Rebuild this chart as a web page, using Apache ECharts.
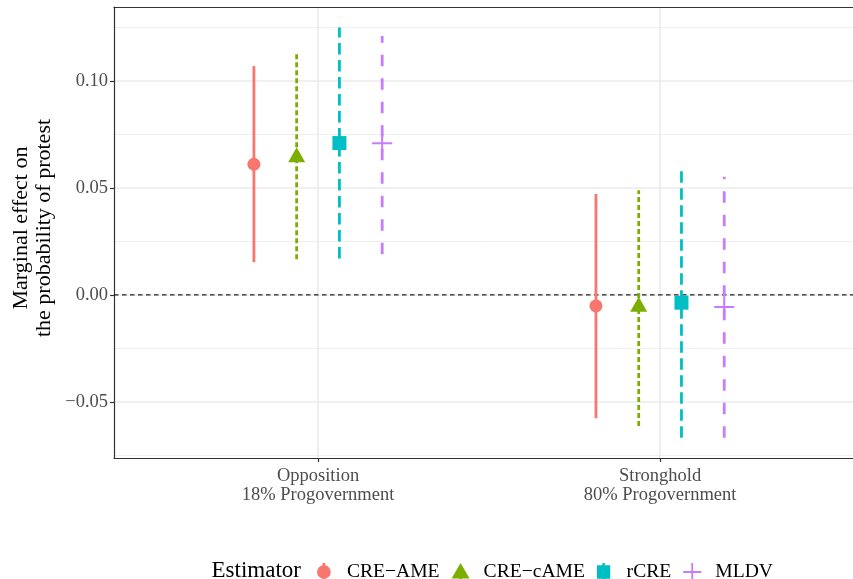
<!DOCTYPE html>
<html>
<head>
<meta charset="utf-8">
<script src="https://cdn.jsdelivr.net/npm/echarts@6/dist/echarts.min.js"></script>
<style>
html, body { margin: 0; padding: 0; background: #fff; }
#chart { width: 853px; height: 579px; }
</style>
</head>
<body>
<div id="chart"></div>
<script>
// categories on the x axis
var categories = ['Opposition\n18% Progovernment', 'Stronghold\n80% Progovernment']
var estimators = ['CRE\u2212AME', 'CRE\u2212cAME', 'rCRE', 'MLDV']

// estimates and interval ends, one value per category
var ame_est = [0.0611, -0.0051]
var ame_lo = [0.0153, -0.0576]
var ame_hi = [0.1070, 0.0472]

var came_est = [0.0644, -0.0055]
var came_lo = [0.0167, -0.0612]
var came_hi = [0.1129, 0.0490]

var rcre_est = [0.0710, -0.0036]
var rcre_lo = [0.0170, -0.0667]
var rcre_hi = [0.1250, 0.0595]

var mldv_est = [0.0709, -0.0056]
var mldv_lo = [0.0190, -0.0667]
var mldv_hi = [0.1210, 0.0553]

// axis ticks
var yTicks = [-0.05, 0, 0.05, 0.10]
var yMinor = [-0.075, -0.025, 0.025, 0.075, 0.125]
var xTicks = [1, 2]

var FONT = "'Liberation Serif', 'Times New Roman', serif"
var colors = ['#F8766D', '#7CAE00', '#00BFC4', '#C77CFF']
var dashes = [null, [5, 3], [11.5, 5.5], [11.5, 12]]
// position_dodge(width = 0.5) for 4 groups
var dodge = [-0.1875, -0.0625, 0.0625, 0.1875]
// the panel runs past the right edge of the picture
var xMin = 0.4035, xMax = 2.564

var chart = echarts.init(document.getElementById('chart'))

function fmtY(v) {
    var s = Math.abs(v).toFixed(2)
    return v < 0 ? '\u2212' + s : s
}

// horizontal reference lines across the panel
function hLines(values, color, width, dash, z) {
    return {
        type: 'custom', silent: true, z: z,
        data: values.map(function (v) { return [1, v] }),
        encode: { x: 0, y: 1 },
        renderItem: function (params, api) {
            var p = api.coord([1, api.value(1)])
            var cs = params.coordSys
            return {
                type: 'line',
                shape: { x1: cs.x, y1: p[1], x2: cs.x + cs.width, y2: p[1] },
                style: { stroke: color, lineWidth: width, lineDash: dash }
            }
        }
    }
}

function vLines(values, color, width, z) {
    return {
        type: 'custom', silent: true, z: z,
        data: values.map(function (v) { return [v, 0] }),
        encode: { x: 0, y: 1 },
        renderItem: function (params, api) {
            var p = api.coord([api.value(0), 0])
            var cs = params.coordSys
            return {
                type: 'line',
                shape: { x1: p[0], y1: cs.y, x2: p[0], y2: cs.y + cs.height },
                style: { stroke: color, lineWidth: width }
            }
        }
    }
}

function rangeSeries(k, lo, hi) {
    return {
        type: 'custom', name: estimators[k], z: 4,
        data: lo.map(function (v, i) { return [i + 1 + dodge[k], v, hi[i]] }),
        encode: { x: 0, y: [1, 2] },
        renderItem: function (params, api) {
            var a = api.coord([api.value(0), api.value(1)])
            var b = api.coord([api.value(0), api.value(2)])
            return {
                type: 'line',
                shape: { x1: a[0], y1: a[1], x2: b[0], y2: b[1] },
                style: { stroke: colors[k], lineWidth: 2.8, lineDash: dashes[k], lineCap: 'butt' }
            }
        }
    }
}

function pointSeries(k, est, symbol, size, offset) {
    return {
        type: 'scatter', name: estimators[k], z: 5,
        symbol: symbol, symbolSize: size, symbolOffset: offset || [0, 0],
        itemStyle: { color: colors[k], opacity: 1 },
        data: est.map(function (v, i) { return [i + 1 + dodge[k], v] })
    }
}

var plusPath = 'path://M9,0H11V20H9Z M0,9H20V11H0Z'
var borderLine = { show: true, onZero: false, lineStyle: { color: '#333', width: 1.2 } }

var option = {
    animation: false,
    backgroundColor: '#fff',
    grid: { left: 114, right: 0, top: 7, bottom: 121 },
    xAxis: [
        {
            type: 'value', min: xMin, max: xMax,
            axisLine: borderLine,
            splitLine: { show: false },
            axisTick: { customValues: xTicks, length: 4, lineStyle: { color: '#333', width: 1.2 } },
            axisLabel: {
                customValues: xTicks, margin: 9,
                formatter: function (v) { return categories[Math.round(v) - 1] },
                fontFamily: FONT, fontSize: 18.5, color: '#4D4D4D', lineHeight: 19
            }
        },
        {
            // top edge of the panel
            type: 'value', position: 'top', min: xMin, max: xMax,
            axisLine: borderLine,
            axisTick: { show: false }, axisLabel: { show: false }, splitLine: { show: false }
        }
    ],
    yAxis: {
        type: 'value', min: -0.0762, max: 0.1346,
        axisLine: borderLine,
        splitLine: { show: false },
        axisTick: { customValues: yTicks, length: 4, lineStyle: { color: '#333', width: 1.2 } },
        axisLabel: {
            customValues: yTicks, margin: 6, formatter: fmtY,
            fontFamily: FONT, fontSize: 18.5, color: '#4D4D4D'
        }
    },
    legend: {
        left: 317, top: 562, padding: 0,
        itemWidth: 20, itemHeight: 18, itemGap: 12,
        selectedMode: false,
        textStyle: { fontFamily: FONT, fontSize: 19.6, color: '#000', padding: [0, 0, 0, 8] },
        data: [
            { name: estimators[0], icon: 'path://M7.2,0H9.8V17H7.2Z M8.5,2A6.5,6.5,0,1,1,8.49,2Z', itemStyle: { color: colors[0] } },
            { name: estimators[1], icon: 'path://M8.5,0L17,14.7H0Z M7.2,14H9.8V17H7.2Z', itemStyle: { color: colors[1] } },
            { name: estimators[2], icon: 'path://M0,2.5H14V16.5H0Z M5.7,0H8.3V19H5.7Z', itemStyle: { color: colors[2] } },
            { name: estimators[3], icon: plusPath, itemStyle: { color: colors[3] } }
        ]
    },
    graphic: [
        {
            type: 'text', x: 33, y: 228, rotation: Math.PI / 2,
            style: {
                text: 'Marginal effect on\nthe probability of protest',
                font: '22px ' + FONT, fill: '#000', align: 'center', verticalAlign: 'middle', lineHeight: 23
            }
        },
        {
            type: 'text', x: 301, y: 571,
            style: {
                text: 'Estimator', font: '23px ' + FONT, fill: '#000',
                align: 'right', verticalAlign: 'middle'
            }
        }
    ],
    series: [
        hLines(yMinor, '#EBEBEB', 0.8, null, 0),
        hLines(yTicks, '#EBEBEB', 1.6, null, 0),
        vLines(xTicks, '#EBEBEB', 1.6, 0),
        hLines([0], '#222', 1.3, [4.5, 3.5], 2),
        rangeSeries(0, ame_lo, ame_hi),
        rangeSeries(1, came_lo, came_hi),
        rangeSeries(2, rcre_lo, rcre_hi),
        rangeSeries(3, mldv_lo, mldv_hi),
        pointSeries(0, ame_est, 'circle', 13),
        pointSeries(1, came_est, 'triangle', [17, 15], [0, -2.5]),
        pointSeries(2, rcre_est, 'rect', 14),
        pointSeries(3, mldv_est, plusPath, 20)
    ]
}

chart.setOption(option)
</script>
</body>
</html>
